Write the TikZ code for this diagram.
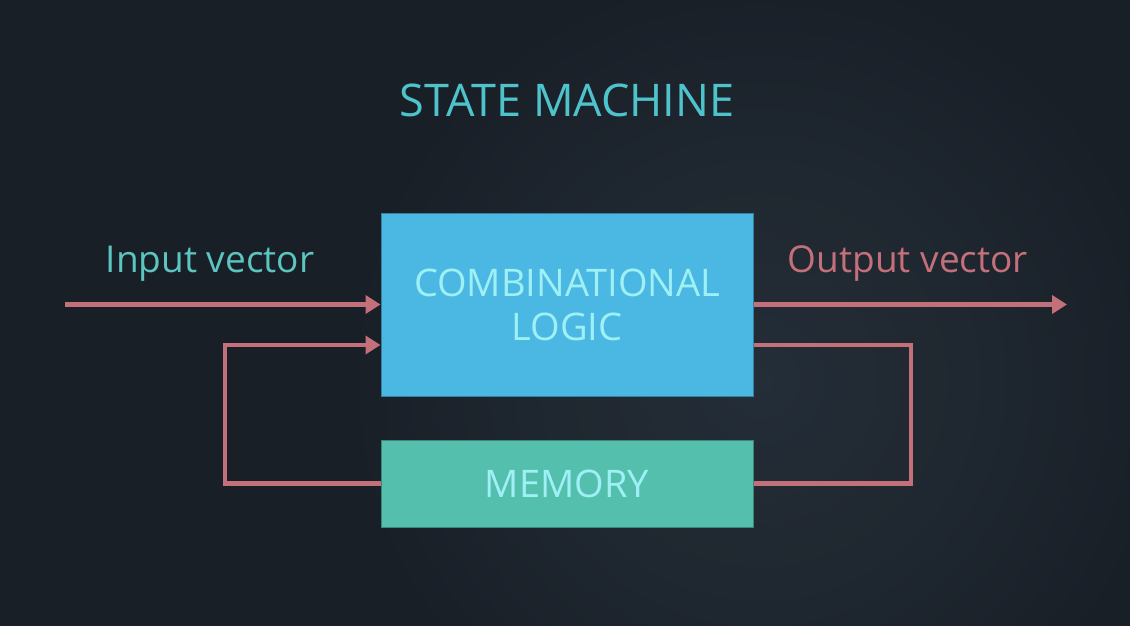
\documentclass[tikz,border=0pt]{standalone}
\usepackage{fontspec}
\setmainfont{Open Sans}
\usetikzlibrary{arrows.meta,calc}
\definecolor{sm_bg}{RGB}{25, 31, 39}
\definecolor{sm_glow}{RGB}{38, 48, 58}
\definecolor{sm_blue}{RGB}{75, 184, 227}
\definecolor{sm_green}{RGB}{85, 191, 174}
\definecolor{sm_text}{RGB}{158, 240, 245}
\definecolor{sm_title}{RGB}{78, 195, 204}
\definecolor{sm_in}{RGB}{92, 197, 192}
\definecolor{sm_pink}{RGB}{196, 112, 122}
\tikzstyle{bn}=[rectangle,fill=sm_blue,draw=sm_blue!70!black,line width=1pt,
  text=sm_text,align=center,font=\fontsize{38}{46}\selectfont,
  minimum width=372pt,minimum height=183pt,inner sep=0pt]
\tikzstyle{mn}=[rectangle,fill=sm_green,draw=sm_green!70!black,line width=1pt,
  text=sm_text,font=\fontsize{38}{46}\selectfont,
  minimum width=372pt,minimum height=87pt,inner sep=0pt]
\tikzstyle{wire}=[draw=sm_pink,line width=4.5pt]
\tikzstyle{arr}=[wire,-{Triangle[length=15pt,width=18pt]}]
\tikzstyle{none}=[]

\begin{document}
\begin{tikzpicture}[x=1pt,y=-1pt]
            \useasboundingbox (0, 0) rectangle (1130, 626);
            \fill [sm_bg] (0, 0) rectangle (1130, 626);
            \shade [inner color=sm_glow,outer color=sm_bg,opacity=0.9] (760, 380) circle (440);
            \node [style=none,text=sm_title,font=\fontsize{45}{54}\selectfont] (t) at (567, 100) {STATE MACHINE};
            \node [style=bn] (0) at (567, 304.5) {COMBINATIONAL\\[-2pt]LOGIC};
            \node [style=mn] (1) at (567, 483.5) {MEMORY};
            \node [style=none,text=sm_in,font=\fontsize{37}{44}\selectfont] (2) at (210, 264) {Input vector};
            \node [style=none,text=sm_pink,font=\fontsize{37}{44}\selectfont] (3) at (908, 264) {Output vector};
            \node [style=none] (4) at (65, 304.5) {};
            \node [style=none] (5) at (1067, 304.5) {};
            \node [style=none] (6) at (225, 345) {};
            \node [style=none] (7) at (225, 483.5) {};
            \node [style=none] (8) at (911, 345) {};
            \node [style=none] (9) at (911, 483.5) {};
            \draw [style=arr] (4.center) to (0.west);
            \draw [style=arr] (0.east) to (5.center);
            \draw [style=arr,line join=miter] (1.west) to (7.center) to (6.center) to (0.west |- 6.center);
            \draw [style=wire,line join=miter] (0.east |- 8.center) to (8.center) to (9.center) to (1.east);
    \end{tikzpicture}
\end{document}
